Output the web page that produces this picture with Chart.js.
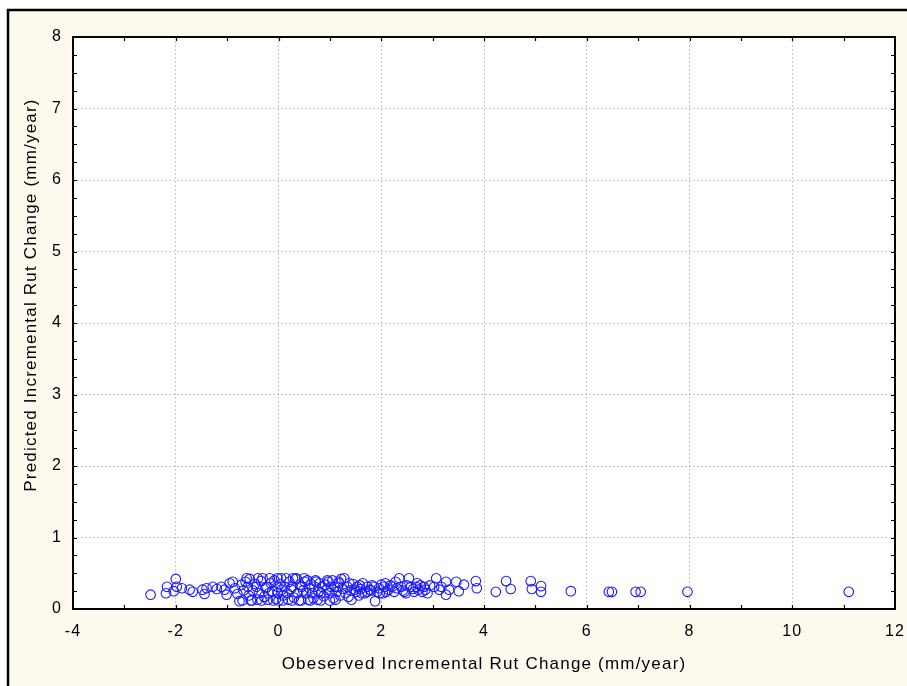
<!DOCTYPE html>
<html>
<head>
<meta charset="utf-8">
<script src="https://cdn.jsdelivr.net/npm/chart.js@4/dist/chart.umd.min.js"></script>
<style>
  html, body { margin: 0; padding: 0; background: #ffffff; overflow: hidden; }
  #grafica { display: block; }
</style>
</head>
<body>
<canvas id="grafica" width="907" height="686"></canvas>
<script>
// --- Datos ---
const obsX = [
  -2.49, -2.19, -2.17, -2.04, -2.00, -1.98, -1.88, -1.73, -1.67, -1.48,
  -1.44, -1.40, -1.28, -1.20, -1.11, -1.05, -1.01, -0.95, -0.89, -0.85,
  -0.80, -0.76, -0.72, -0.68, -0.64, -0.60, -0.58, -0.56, -0.54, -0.50,
  -0.46, -0.43, -0.41, -0.38, -0.34, -0.31, -0.28, -0.25, -0.23, -0.21,
  -0.19, -0.15, -0.12, -0.08, -0.05, -0.02, -0.02, -0.02, 0.00, 0.03,
  0.06, 0.09, 0.12, 0.15, 0.17, 0.19, 0.21, 0.24, 0.27, 0.30,
  0.33, 0.35, 0.37, 0.40, 0.42, 0.45, 0.48, 0.51, 0.54, 0.56,
  0.58, 0.60, 0.63, 0.66, 0.68, 0.70, 0.73, 0.76, 0.78, 0.80,
  0.83, 0.85, 0.88, 0.91, 0.94, 0.97, 0.99, 1.02, 1.05, 1.07,
  1.09, 1.11, 1.13, 1.15, 1.18, 1.20, 1.22, 1.25, 1.28, 1.30,
  1.34, 1.36, 1.40, 1.42, 1.45, 1.51, 1.53, 1.56, 1.60, 1.64,
  1.68, 1.73, 1.73, 1.78, 1.82, 1.86, 1.88, 1.92, 1.96, 2.00,
  2.03, 2.06, 2.10, 2.14, 2.18, 2.21, 2.25, 2.30, 2.35, 2.39,
  2.42, 2.45, 2.50, 2.54, 2.58, 2.62, 2.64, 2.68, 2.72, 2.76,
  2.80, 2.83, 2.86, 2.90, 3.03, 3.07, 3.13, 3.17, 3.26, 3.26,
  3.32, 3.46, 3.51, 3.61, 3.84, 3.86, 4.23, 4.43, 4.52, 4.91,
  4.93, 5.11, 5.11, 5.69, 6.43, 6.49, 6.95, 7.05, 7.96, 11.10,
  -0.70, -0.52, -0.33, -0.10, 0.08, 0.26, 0.44, 0.62, 0.82, 1.00,
  -0.62, -0.40, -0.17, 0.05, 0.28, 0.50, 0.72, 0.95, 1.17, 1.38,
  1.48, 1.62, 1.80, 2.08, 2.28, 2.48, 2.70, 2.95, 1.58, 1.97
];
const predY = [
  0.20, 0.22, 0.31, 0.25, 0.42, 0.31, 0.29, 0.27, 0.24, 0.27,
  0.21, 0.29, 0.31, 0.28, 0.31, 0.27, 0.20, 0.36, 0.38, 0.29,
  0.21, 0.11, 0.34, 0.26, 0.38, 0.31, 0.19, 0.42, 0.12, 0.26,
  0.35, 0.31, 0.13, 0.22, 0.39, 0.43, 0.17, 0.29, 0.31, 0.13,
  0.22, 0.36, 0.25, 0.40, 0.14, 0.43, 0.31, 0.22, 0.12, 0.35,
  0.27, 0.19, 0.31, 0.43, 0.22, 0.13, 0.38, 0.28, 0.31, 0.16,
  0.42, 0.43, 0.22, 0.12, 0.34, 0.31, 0.26, 0.38, 0.22, 0.40,
  0.13, 0.29, 0.35, 0.22, 0.15, 0.31, 0.38, 0.13, 0.24, 0.36,
  0.22, 0.31, 0.18, 0.34, 0.27, 0.38, 0.22, 0.31, 0.40, 0.15,
  0.31, 0.13, 0.24, 0.31, 0.36, 0.19, 0.42, 0.28, 0.43, 0.22,
  0.31, 0.17, 0.26, 0.13, 0.35, 0.24, 0.31, 0.19, 0.28, 0.36,
  0.22, 0.31, 0.24, 0.27, 0.33, 0.31, 0.11, 0.24, 0.29, 0.34,
  0.22, 0.31, 0.24, 0.27, 0.33, 0.31, 0.24, 0.29, 0.43, 0.31,
  0.26, 0.24, 0.33, 0.43, 0.31, 0.28, 0.24, 0.31, 0.27, 0.33,
  0.24, 0.31, 0.27, 0.22, 0.31, 0.43, 0.27, 0.31, 0.38, 0.20,
  0.27, 0.38, 0.25, 0.34, 0.39, 0.29, 0.24, 0.39, 0.28, 0.39,
  0.28, 0.32, 0.24, 0.25, 0.24, 0.24, 0.24, 0.24, 0.24, 0.24,
  0.12, 0.12, 0.12, 0.12, 0.12, 0.12, 0.12, 0.12, 0.12, 0.12,
  0.43, 0.43, 0.43, 0.43, 0.43, 0.43, 0.40, 0.40, 0.38, 0.36,
  0.27, 0.22, 0.26, 0.36, 0.38, 0.22, 0.36, 0.33, 0.33, 0.22
];
const xMin = -4, xMax = 12, xStep = 2;
const yMin = 0, yMax = 8, yStep = 1;
const xTitle = 'Obeserved Incremental Rut Change (mm/year)';
const yTitle = 'Predicted Incremental Rut Change (mm/year)';

const puntos = obsX.map((x, i) => ({ x: x, y: predY[i] }));
const fuente = '"Liberation Sans", Arial, sans-serif';

// --- Fondo, marco, marcas menores y titulo del eje Y ---
const marcoPlugin = {
  id: 'marco',
  beforeDraw(chart) {
    const { ctx, chartArea: a, width, height } = chart;
    ctx.save();
    ctx.fillStyle = '#ffffff';
    ctx.fillRect(0, 0, width, height);
    ctx.fillStyle = '#fdf9ee';
    ctx.fillRect(8, 10, width - 8, height - 10);
    ctx.strokeStyle = '#000000';
    ctx.lineWidth = 2.5;
    ctx.beginPath();
    ctx.moveTo(8, height);
    ctx.lineTo(8, 10);
    ctx.lineTo(width, 10);
    ctx.stroke();
    ctx.fillStyle = '#ffffff';
    ctx.fillRect(a.left, a.top, a.right - a.left, a.bottom - a.top);
    ctx.restore();
    // espaciado de letras como en el original
    ctx.letterSpacing = '1.2px';
  },
  afterDatasetsDraw(chart) {
    const { ctx, chartArea: a, scales } = chart;
    ctx.save();
    ctx.strokeStyle = '#000000';
    ctx.lineWidth = 1.2;
    ctx.beginPath();
    for (let v = xMin + 1; v < xMax; v += 1) {
      const px = Math.round(scales.x.getPixelForValue(v)) + 0.5;
      ctx.moveTo(px, a.bottom); ctx.lineTo(px, a.bottom - 4);
      ctx.moveTo(px, a.top); ctx.lineTo(px, a.top + 4);
    }
    for (let v = yMin + 0.25; v < yMax; v += 0.25) {
      const py = Math.round(scales.y.getPixelForValue(v)) + 0.5;
      ctx.moveTo(a.left, py); ctx.lineTo(a.left + 4, py);
      ctx.moveTo(a.right, py); ctx.lineTo(a.right - 4, py);
    }
    ctx.stroke();
    ctx.lineWidth = 2;
    ctx.strokeRect(a.left, a.top, a.right - a.left, a.bottom - a.top);
    ctx.restore();
  },
  afterDraw(chart) {
    const { ctx } = chart;
    ctx.save();
    ctx.letterSpacing = '1.2px';
    ctx.translate(31, 295);
    ctx.rotate(-Math.PI / 2);
    ctx.fillStyle = '#000';
    ctx.font = '17px ' + fuente;
    ctx.textAlign = 'center';
    ctx.textBaseline = 'middle';
    ctx.fillText(yTitle, 0, 0);
    ctx.restore();
  }
};

new Chart(document.getElementById('grafica'), {
  type: 'scatter',
  data: {
    datasets: [{
      data: puntos,
      pointStyle: 'circle',
      pointRadius: 4.8,
      pointHoverRadius: 4.8,
      borderWidth: 1.1,
      borderColor: '#1c1cff',
      backgroundColor: 'rgba(0,0,0,0)'
    }]
  },
  plugins: [marcoPlugin],
  options: {
    responsive: false,
    animation: false,
    devicePixelRatio: 1,
    layout: { padding: { left: 0, right: 12, top: 37, bottom: 0 } },
    plugins: { legend: { display: false }, tooltip: { enabled: false } },
    scales: {
      x: {
        type: 'linear', min: xMin, max: xMax,
        afterFit(scale) { scale.height = 77; scale.paddingLeft = 0; scale.paddingRight = 0; },
        ticks: { stepSize: xStep, padding: 13, color: '#000', font: { family: fuente, size: 16 } },
        grid: {
          drawTicks: false, lineWidth: 1,
          color: ctx => (ctx.tick && (ctx.tick.value === xMin || ctx.tick.value === xMax)) ? 'rgba(0,0,0,0)' : '#c6c6c6'
        },
        border: { display: false, dash: [2, 2] },
        title: { display: true, text: xTitle, color: '#000', padding: { top: 0, bottom: 11 }, font: { family: fuente, size: 17 } }
      },
      y: {
        type: 'linear', min: yMin, max: yMax,
        afterFit(scale) { scale.width = 73; scale.paddingTop = 0; scale.paddingBottom = 0; },
        ticks: { stepSize: yStep, padding: 11, color: '#000', font: { family: fuente, size: 16 } },
        grid: {
          drawTicks: false, lineWidth: 1,
          color: ctx => (ctx.tick && (ctx.tick.value === yMin || ctx.tick.value === yMax)) ? 'rgba(0,0,0,0)' : '#c6c6c6'
        },
        border: { display: false, dash: [2, 2] },
        title: { display: false }
      }
    }
  }
});
</script>
</body>
</html>
